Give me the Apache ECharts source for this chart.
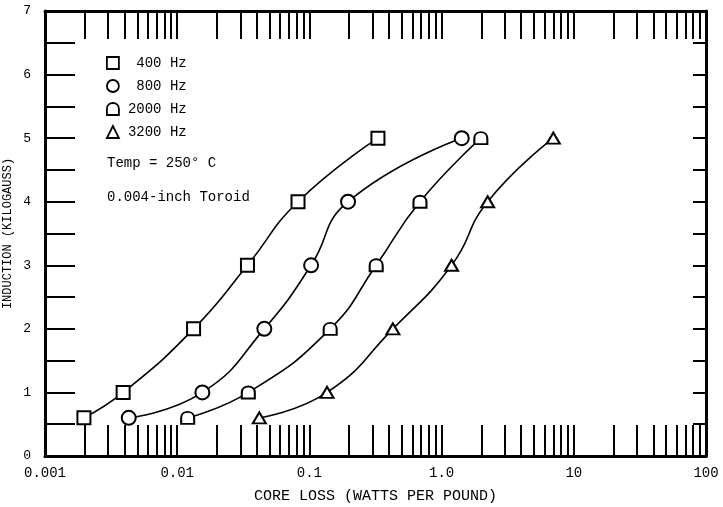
<!DOCTYPE html>
<html>
<head>
<meta charset="utf-8">
<script src="https://cdn.jsdelivr.net/npm/echarts@6/dist/echarts.min.js"></script>
<style>
html,body{margin:0;padding:0;background:#fff;}
#chart{width:723px;height:507px;}
</style>
</head>
<body>
<div id="chart"></div>
<script>
// ---- data ----
const seriesNames = ['400 Hz', '800 Hz', '2000 Hz', '3200 Hz'];
const induction = [0.6, 1, 2, 3, 4, 5];           // kilogauss
const loss400  = [0.00197, 0.0039, 0.0133, 0.034, 0.082, 0.33];
const loss800  = [0.0043, 0.0155, 0.0456, 0.103, 0.196, 1.42];
const loss2000 = [0.012, 0.0345, 0.1436, 0.32, 0.686, 1.98];
const loss3200 = [0.0418, 0.136, 0.428, 1.19, 2.23, 7.0];
const xMajorValues = [0.001, 0.01, 0.1, 1, 10, 100];
const xMajorLabels = ['0.001', '0.01', '0.1', '1.0', '10', '100'];
const yLabels = ['0', '1', '2', '3', '4', '5', '6', '7'];
const notes = ['Temp = 250\u00b0 C', '0.004-inch Toroid'];

// ---- helpers ----
const xMinorTicks = [];
for (let d = 0; d < xMajorValues.length; d++) {
  const base = xMajorValues[d];
  xMinorTicks.push(base);
  if (d < xMajorValues.length - 1) {
    for (let m = 2; m <= 9; m++) xMinorTicks.push(+(base * m).toPrecision(6));
  }
}
const domePath = 'path://M0,12 L0,6 C0,-2 12,-2 12,6 L12,12 Z';
const symbols = ['rect', 'circle', domePath, 'triangle'];
const symbolSizes = [[13, 13], 14, [13, 12], [13, 11]];
const lossArrays = [loss400, loss800, loss2000, loss3200];
const FONT = '"Liberation Mono", "DejaVu Sans Mono", monospace';

const series = seriesNames.map((name, i) => ({
  name: name,
  type: 'line',
  xAxisIndex: 0,
  yAxisIndex: 0,
  smooth: 0.5,
  symbol: symbols[i],
  symbolSize: symbolSizes[i],
  showAllSymbol: true,
  lineStyle: { color: '#000', width: 1.6 },
  itemStyle: { color: '#fff', borderColor: '#000', borderWidth: 2 },
  emphasis: { disabled: true },
  z: 3,
  data: lossArrays[i].map((x, k) => [x, induction[k]])
}));

const chart = echarts.init(document.getElementById('chart'), null, { renderer: 'canvas' });
const option = {
  animation: false,
  backgroundColor: '#fff',
  grid: { left: 45, right: 17, top: 11, bottom: 51, outerBoundsMode: 'none', containLabel: false },
  legend: {
    show: true,
    orient: 'vertical',
    left: 106,
    top: 56,
    padding: 0,
    itemWidth: 12,
    itemHeight: 12,
    itemGap: 9,
    selectedMode: false,
    data: seriesNames.map((n, i) => ({ name: n, icon: symbols[i] })),
    itemStyle: { color: '#fff', borderColor: '#000', borderWidth: 1.8 },
    formatter: n => n.padStart(7, ' '),
    textStyle: { fontFamily: FONT, fontSize: 14, color: '#000', lineHeight: 14, padding: [0, 0, 0, 4] }
  },
  graphic: [
    { type: 'text', left: 107, top: 156, style: { text: notes[0], font: '14px ' + FONT, fill: '#000' } },
    { type: 'text', left: 107, top: 190, style: { text: notes[1], font: '14px ' + FONT, fill: '#000' } }
  ],
  xAxis: [
    {
      type: 'log', logBase: 10, min: 0.001, max: 100, position: 'bottom',
      name: 'CORE LOSS (WATTS PER POUND)', nameLocation: 'middle', nameGap: 33,
      nameTextStyle: { fontFamily: FONT, fontSize: 15, color: '#000' },
      axisLine: { show: true, onZero: false, lineStyle: { color: '#000', width: 3 } },
      axisTick: { show: true, inside: true, length: 31, customValues: xMinorTicks, lineStyle: { color: '#000', width: 2 } },
      minorTick: { show: false },
      splitLine: { show: false },
      axisLabel: {
        show: true, margin: 10, customValues: xMajorValues,
        fontFamily: FONT, fontSize: 14, color: '#000',
        formatter: v => {
          const idx = xMajorValues.findIndex(t => Math.abs(t - v) / t < 1e-6);
          return idx >= 0 ? xMajorLabels[idx] : '';
        }
      }
    },
    {
      type: 'log', logBase: 10, min: 0.001, max: 100, position: 'top',
      axisLine: { show: true, onZero: false, lineStyle: { color: '#000', width: 3 } },
      axisTick: { show: true, inside: true, length: 28, customValues: xMinorTicks, lineStyle: { color: '#000', width: 2 } },
      axisLabel: { show: false },
      splitLine: { show: false }
    }
  ],
  yAxis: [
    {
      type: 'value', min: 0, max: 7, interval: 0.5, position: 'left',
      name: 'INDUCTION (KILOGAUSS)', nameLocation: 'middle', nameGap: 31, nameRotate: 90,
      nameMoveOverlap: false,
      nameTextStyle: { fontFamily: FONT, fontSize: 12, color: '#000' },
      axisLine: { show: true, onZero: false, lineStyle: { color: '#000', width: 3 } },
      axisTick: { show: true, inside: true, length: 30, lineStyle: { color: '#000', width: 2 } },
      splitLine: { show: false },
      axisLabel: {
        show: true, margin: 14, fontFamily: FONT, fontSize: 13, color: '#000',
        formatter: v => (Math.abs(v - Math.round(v)) < 1e-9 ? yLabels[Math.round(v)] : '')
      }
    },
    {
      type: 'value', min: 0, max: 7, interval: 0.5, position: 'right',
      axisLine: { show: true, onZero: false, lineStyle: { color: '#000', width: 3 } },
      axisTick: { show: true, inside: true, length: 13, lineStyle: { color: '#000', width: 2 } },
      splitLine: { show: false },
      axisLabel: { show: false }
    }
  ],
  series: series
};
chart.setOption(option);
</script>
</body>
</html>
